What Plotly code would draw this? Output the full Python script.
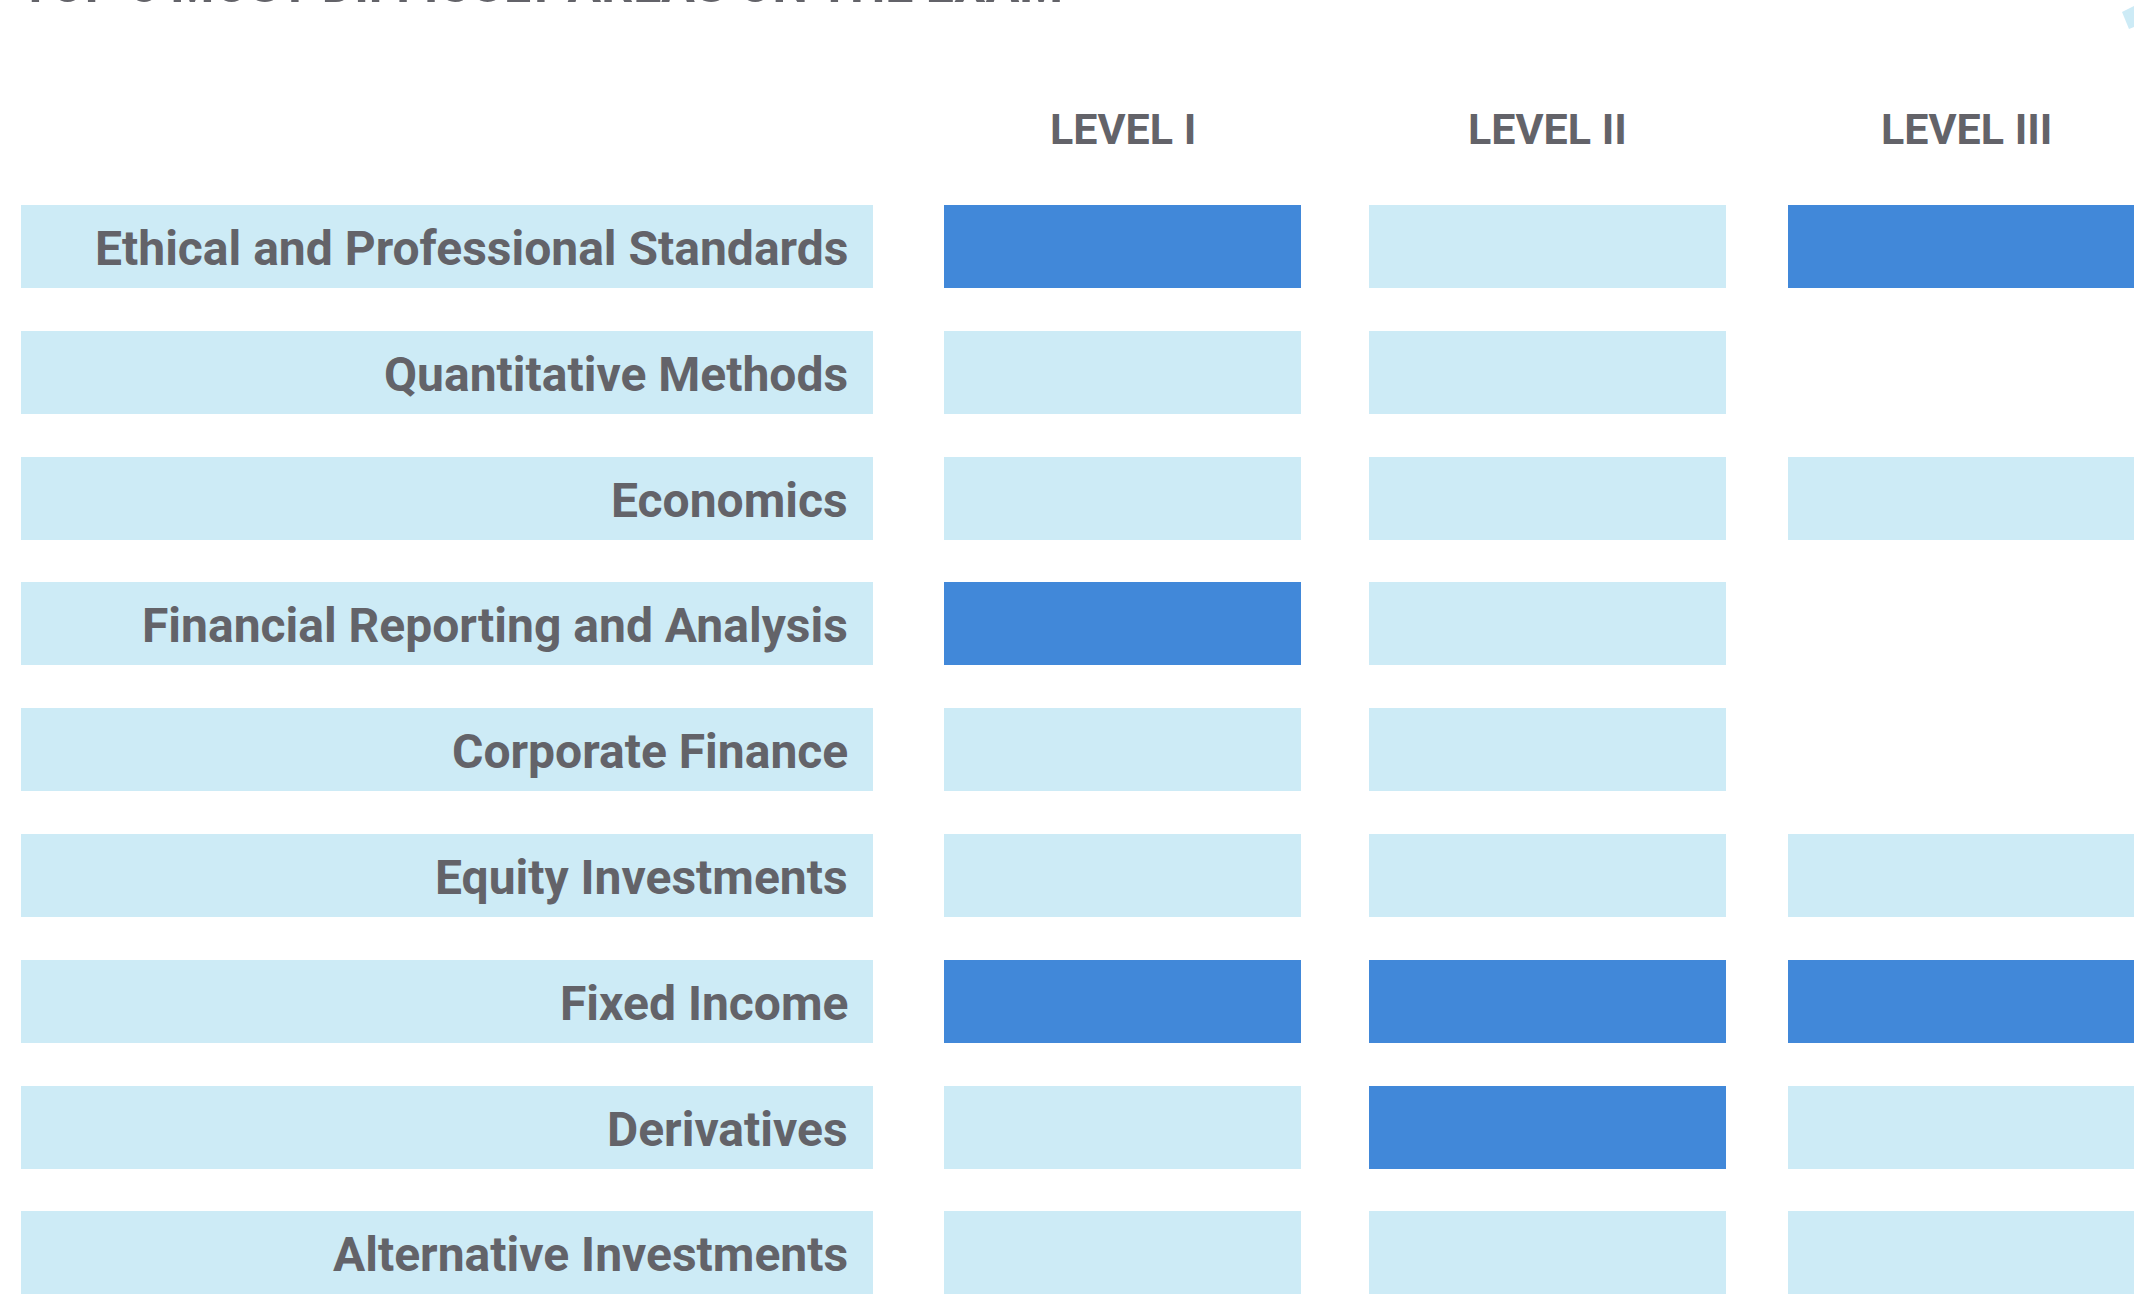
import plotly.graph_objects as go

# --- Data ---
TOPICS = [
    "Ethical and Professional Standards",
    "Quantitative Methods",
    "Economics",
    "Financial Reporting and Analysis",
    "Corporate Finance",
    "Equity Investments",
    "Fixed Income",
    "Derivatives",
    "Alternative Investments",
]
LEVELS = ["LEVEL I", "LEVEL II", "LEVEL III"]
# 1 = among the most difficult areas, 0 = tested, None = not on the exam
LEVEL_1 = [1, 0, 0, 1, 0, 0, 1, 0, 0]
LEVEL_2 = [0, 0, 0, 0, 0, 0, 1, 1, 0]
LEVEL_3 = [1, None, 0, None, None, 0, 1, 0, 0]
TITLE = "TOP 5 MOST DIFFICULT AREAS ON THE EXAM"

CHART_CONFIG = {
    "colors": {
        "hard": "#4188d9",
        "normal": "#cdebf6",
        "text": "#636369",
        "background": "white",
    },
    "fonts": {
        "family": "Roboto, Arial, sans-serif",
        "label_size": 48,
        "header_size": 43,
        "title_size": 50,
    },
    "layout": {
        "width": 2134,
        "height": 1297,
        # horizontal columns: (start, width) in x-axis units (px)
        "label_col": (21, 852),
        "level_cols": [(944, 357), (1369, 357), (1788, 357)],
        "label_pad": 23,
        "row_pitch": 125.8,
        "first_row_center": 246.5,
        "bar_width": 0.66,
        "header_y": 129,
    },
}


def crear_grafico(config=CHART_CONFIG):
    lay = config["layout"]
    col = config["colors"]
    fnt = config["fonts"]
    fig = go.Figure()

    # label column background
    x0, w = lay["label_col"]
    fig.add_trace(go.Bar(
        y=TOPICS, x=[w] * len(TOPICS), base=x0, orientation="h",
        marker=dict(color=col["normal"], line_width=0),
        width=lay["bar_width"], hoverinfo="skip", showlegend=False,
    ))

    # one trace per level
    for (x0, w), name, values in zip(lay["level_cols"], LEVELS, [LEVEL_1, LEVEL_2, LEVEL_3]):
        ys = [t for t, v in zip(TOPICS, values) if v is not None]
        vs = [v for v in values if v is not None]
        fig.add_trace(go.Bar(
            y=ys, x=[w] * len(ys), base=x0, orientation="h", name=name,
            marker=dict(color=[col["hard"] if v else col["normal"] for v in vs], line_width=0),
            width=lay["bar_width"], hoverinfo="y+name", showlegend=False,
        ))
        fig.add_annotation(
            x=x0 + w / 2, xref="x", y=1 - lay["header_y"] / lay["height"], yref="paper",
            text=f"<b>{name}</b>", showarrow=False, xanchor="center", yanchor="middle",
            font=dict(family=fnt["family"], size=fnt["header_size"], color=col["text"]),
        )

    # topic labels, right aligned inside the label column
    x0, w = lay["label_col"]
    for t in TOPICS:
        fig.add_annotation(
            x=x0 + w - lay["label_pad"], y=t, text=f"<b>{t}</b>", showarrow=False,
            xanchor="right", yanchor="middle", yshift=-2,
            font=dict(family=fnt["family"], size=fnt["label_size"], color=col["text"]),
        )

    # title (cropped at the top of the picture)
    fig.add_annotation(
        x=18 / lay["width"], xref="paper", y=1 - 16 / lay["height"], yref="paper",
        text=f"<b>{TITLE}</b>", showarrow=False, xanchor="left", yanchor="bottom",
        font=dict(family=fnt["family"], size=fnt["title_size"], color=col["text"]),
    )

    # small decorative shape in the top-right corner
    W, H = lay["width"], lay["height"]
    pts = [(2122, 12), (2134, 6), (2134, 27), (2129, 29)]
    path = "M " + " L ".join(f"{px / W},{1 - py / H}" for px, py in pts) + " Z"
    fig.add_shape(type="path", path=path, xref="paper", yref="paper",
                  fillcolor=col["normal"], line_width=0)

    top = -lay["first_row_center"] / lay["row_pitch"]
    bottom = top + lay["height"] / lay["row_pitch"]
    fig.update_layout(
        width=lay["width"], height=lay["height"],
        margin=dict(l=0, r=0, t=0, b=0),
        plot_bgcolor=col["background"], paper_bgcolor=col["background"],
        barmode="overlay", bargap=0,
        xaxis=dict(range=[0, lay["width"]], visible=False, fixedrange=True),
        yaxis=dict(range=[bottom, top], visible=False, fixedrange=True,
                   categoryorder="array", categoryarray=TOPICS),
    )
    return fig


fig = crear_grafico()
# quitar el margen por defecto del body para que la figura llene la ventana
fig.write_html(
    "out.html",
    config={"displayModeBar": False},
    post_script="document.body.style.margin='0px';document.body.style.overflow='hidden';",
)
